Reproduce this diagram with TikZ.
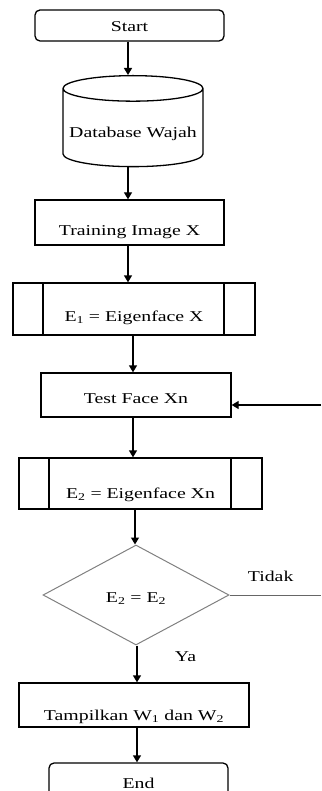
\documentclass[tikz,border=0pt]{standalone}
\usepackage{fontspec}
\setmainfont{Liberation Serif}[FakeStretch=1.32]
\usepackage{tikz}
\usetikzlibrary{shapes.geometric,arrows.meta}

\begin{document}
\begin{tikzpicture}[x=1pt,y=-1pt,font=\fontsize{15}{17}\selectfont]
    \tikzstyle{box} = [rectangle, draw, line width=1.3pt, inner sep=0pt]
    \tikzstyle{terminal} = [box, rounded corners=5pt]
    \tikzstyle{predproc} = [box, path picture={
        \draw [line width=1.3pt] ([xshift=30pt]path picture bounding box.north west) -- ([xshift=30pt]path picture bounding box.south west);
        \draw [line width=1.3pt] ([xshift=-31pt]path picture bounding box.north east) -- ([xshift=-31pt]path picture bounding box.south east);
    }]
    \tikzstyle{database} = [cylinder, shape border rotate=90, draw, line width=1.3pt, aspect=0.2, inner sep=0pt]
    \tikzstyle{decision} = [diamond, draw=gray, line width=1pt, inner sep=0pt]
    \tikzstyle{edge} = [-{Triangle[length=7pt,width=8pt]}, line width=1.3pt]
    \useasboundingbox (0,0) rectangle (321,791);

    \node [terminal, minimum width=189pt, text height=22pt, text depth=9pt] (start) at (129.5,25.5) {Start};
    \node [database, minimum width=140pt, minimum height=91pt, text height=22pt, text depth=3pt, anchor=north] (db) at (133,75) {Database Wajah};
    \node [box, minimum width=189pt, text height=36pt, text depth=9pt] (train) at (129.5,222.5) {Training Image X};
    \node [predproc, minimum width=242pt, text height=38pt, text depth=14pt] (eig1) at (134,309) {E\textsubscript{1} = Eigenface X};
    \node [box, minimum width=190pt, text height=30pt, text depth=14pt] (test) at (136,395) {Test Face Xn};
    \node [predproc, minimum width=243pt, text height=40pt, text depth=11pt] (eig2) at (140.5,483.5) {E\textsubscript{2} = Eigenface Xn};
    \node [decision, minimum width=186pt, minimum height=100pt, text height=14pt, text depth=0pt] (cek) at (136,595) {E\textsubscript{2} = E\textsubscript{2}};
    \node [box, minimum width=230pt, text height=37pt, text depth=7pt] (tampil) at (134,705) {Tampilkan W\textsubscript{1} dan W\textsubscript{2}};
    \node [terminal, minimum width=179pt, text height=25pt, text depth=14pt] (end) at (138.5,782.5) {End};

    \coordinate (tidakR) at (321,595);
    \coordinate (balikR) at (321,405);

    \draw [edge] (start.south -| 128,0) -- (db.north -| 128,0);
    \draw [edge] (db.south -| 128,0) -- (train.north -| 128,0);
    \draw [edge] (train.south -| 128,0) -- (eig1.north -| 128,0);
    \draw [edge] (eig1.south -| 133,0) -- (test.north -| 133,0);
    \draw [edge] (test.south -| 133,0) -- (eig2.north -| 133,0);
    \draw [edge] (eig2.south -| 135,0) -- (cek.north -| 135,0);
    \draw [edge] (cek.south -| 137,0) -- node [right=34pt, pos=0.3] {Ya} (tampil.north -| 137,0);
    \draw [edge] (tampil.south -| 137,0) -- (end.north -| 137,0);
    \draw [line width=1pt, gray!80!black] (cek.east) -- node [above=10pt, pos=0.45, black] {Tidak} (tidakR);
    \draw [edge] (balikR) -- (balikR -| test.east);
\end{tikzpicture}
\end{document}
